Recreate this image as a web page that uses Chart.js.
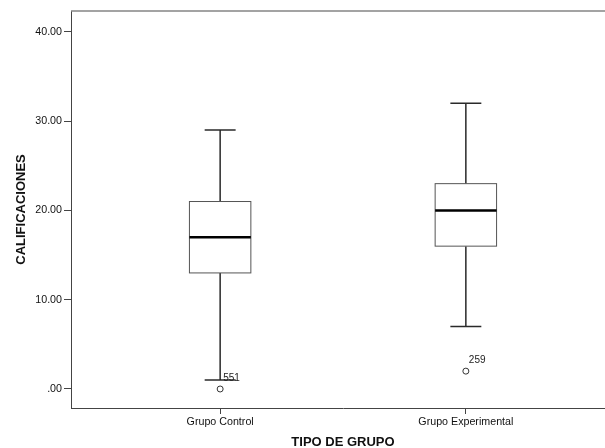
<!DOCTYPE html>
<html>
<head>
<meta charset="utf-8">
<script src="https://cdn.jsdelivr.net/npm/chart.js@4"></script>
<style>
  html, body { margin: 0; padding: 0; background: #fff; overflow: hidden; }
  canvas { display: block; }
</style>
</head>
<body>
<canvas id="boxChart" width="620" height="448"></canvas>
<script>
// values
const groups = ['Grupo Control', 'Grupo Experimental'];
const whiskerLow = [1, 7];
const q1 = [13, 16];
const median = [17, 20];
const q3 = [21, 23];
const whiskerHigh = [29, 32];
const outlierValues = [0, 2];
const outlierIds = ['551', '259'];
const yTicks = [0, 10, 20, 30, 40];

const boxWidth = 0.25;   // in x units
const capWidth = 0.126;

const fmtTick = v => (v === 0 ? '.00' : v.toFixed(2));

const boxPlotPlugin = {
    id: 'boxPlot',
    afterDatasetsDraw(chart) {
        const ctx = chart.ctx;
        const x = chart.scales.x;
        const y = chart.scales.y;
        const area = chart.chartArea;

        ctx.save();
        // top frame line
        ctx.strokeStyle = '#858585';
        ctx.lineWidth = 1.5;
        ctx.beginPath();
        ctx.moveTo(area.left, area.top);
        ctx.lineTo(area.right + 5, area.top);
        ctx.stroke();

        groups.forEach((g, i) => {
            const cx = x.getPixelForValue(i + 1);
            const bl = x.getPixelForValue(i + 1 - boxWidth / 2);
            const br = x.getPixelForValue(i + 1 + boxWidth / 2);
            const cl = x.getPixelForValue(i + 1 - capWidth / 2);
            const cr = x.getPixelForValue(i + 1 + capWidth / 2);
            const yLo = y.getPixelForValue(whiskerLow[i]);
            const yQ1 = y.getPixelForValue(q1[i]);
            const yMed = y.getPixelForValue(median[i]);
            const yQ3 = y.getPixelForValue(q3[i]);
            const yHi = y.getPixelForValue(whiskerHigh[i]);

            // whiskers
            ctx.strokeStyle = '#2a2a2a';
            ctx.lineWidth = 1.5;
            ctx.beginPath();
            ctx.moveTo(cx, yQ3); ctx.lineTo(cx, yHi);
            ctx.moveTo(cl, yHi); ctx.lineTo(cr, yHi);
            ctx.moveTo(cx, yQ1); ctx.lineTo(cx, yLo);
            ctx.moveTo(cl, yLo); ctx.lineTo(cr, yLo);
            ctx.stroke();

            // box
            ctx.fillStyle = '#ffffff';
            ctx.fillRect(bl, yQ3, br - bl, yQ1 - yQ3);
            ctx.strokeStyle = '#555555';
            ctx.lineWidth = 1;
            ctx.strokeRect(bl, yQ3, br - bl, yQ1 - yQ3);

            // median
            ctx.strokeStyle = '#000000';
            ctx.lineWidth = 2.5;
            ctx.beginPath();
            ctx.moveTo(bl, yMed); ctx.lineTo(br, yMed);
            ctx.stroke();

            // outlier case label
            const oy = y.getPixelForValue(outlierValues[i]);
            ctx.fillStyle = '#222222';
            ctx.font = '10px "Liberation Sans", Arial, sans-serif';
            ctx.textAlign = 'left';
            ctx.textBaseline = 'middle';
            ctx.fillText(outlierIds[i], cx + 3, oy - 11);
        });
        ctx.restore();
    }
};

new Chart(document.getElementById('boxChart'), {
    type: 'scatter',
    data: {
        datasets: [{
            label: 'Atípicos',
            data: outlierValues.map((v, i) => ({ x: i + 1, y: v })),
            pointStyle: 'circle',
            pointRadius: 3,
            pointHoverRadius: 3,
            backgroundColor: '#ffffff',
            borderColor: '#333333',
            borderWidth: 1,
        }],
    },
    options: {
        responsive: false,
        animation: false,
        devicePixelRatio: 1,
        layout: { padding: { top: 11, right: 5, left: 0, bottom: 0 } },
        plugins: {
            legend: { display: false },
            tooltip: { enabled: false },
        },
        scales: {
            x: {
                type: 'linear',
                min: 0.393,
                max: 2.607,
                afterBuildTicks: scale => { scale.ticks = groups.map((g, i) => ({ value: i + 1 })); },
                afterFit: scale => { scale.height = 40; },
                ticks: {
                    callback: v => groups[v - 1],
                    font: { family: '"Liberation Sans", Arial, sans-serif', size: 10.7 },
                    color: '#111',
                    padding: 2,
                    maxRotation: 0,
                },
                grid: { drawOnChartArea: false, tickLength: 6, color: '#444' },
                border: { color: '#444', width: 1 },
                title: {
                    display: true,
                    text: 'TIPO DE GRUPO',
                    color: '#111',
                    font: { family: '"Liberation Sans", Arial, sans-serif', size: 13, weight: 'bold', lineHeight: 1 },
                    padding: { top: 0, bottom: -1 },
                },
            },
            y: {
                type: 'linear',
                min: -2.13,
                max: 42.34,
                afterBuildTicks: scale => { scale.ticks = yTicks.map(v => ({ value: v })); },
                afterFit: scale => { scale.width = 71; },
                ticks: {
                    callback: v => fmtTick(v),
                    font: { family: '"Liberation Sans", Arial, sans-serif', size: 10.7 },
                    color: '#111',
                    padding: 2,
                },
                grid: { drawOnChartArea: false, tickLength: 7, color: '#444' },
                border: { color: '#444', width: 1 },
                title: {
                    display: true,
                    text: 'CALIFICACIONES',
                    color: '#111',
                    font: { family: '"Liberation Sans", Arial, sans-serif', size: 13, weight: 'bold', lineHeight: 1 },
                    padding: { top: 15, bottom: 0 },
                },
            },
        },
    },
    plugins: [boxPlotPlugin],
});
</script>
</body>
</html>
